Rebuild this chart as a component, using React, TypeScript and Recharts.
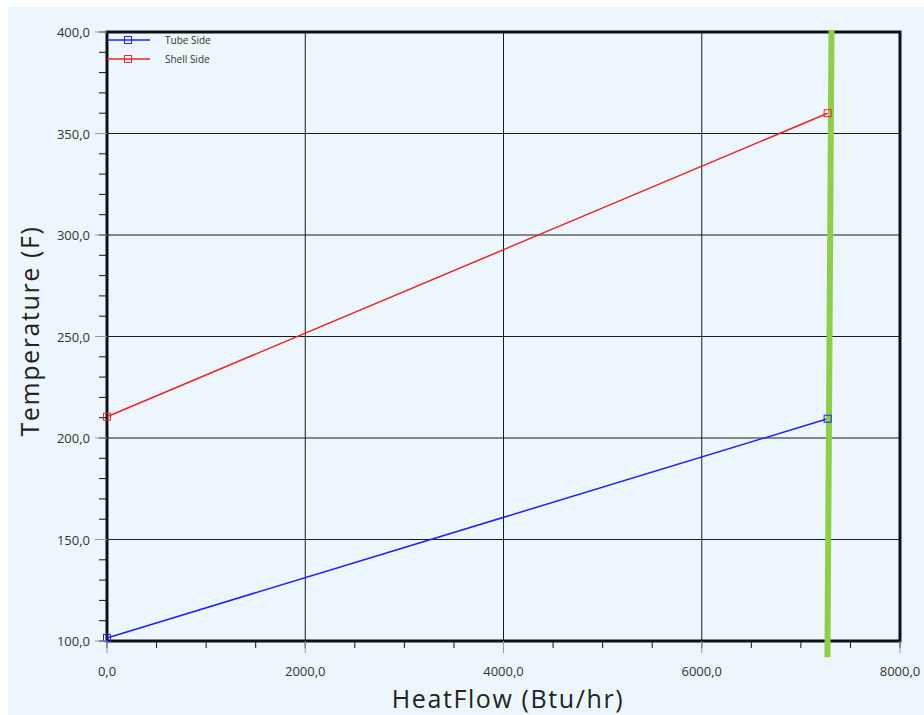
import { LineChart, Line, XAxis, YAxis, Legend, ReferenceLine, ReferenceArea } from "recharts";

// heat flow (Btu/hr) at the two ends of the exchanger
const heatFlow = [0, 7270];
const tubeSide = [101.5, 209.5];
const shellSide = [210.5, 360];
const seriesNames = ["Tube Side", "Shell Side"];

// slanted green marker line, top and bottom end (slightly outside the plot)
const cutTop = { q: 7309, t: 401 };
const cutBottom = { q: 7268, t: 92 };

const majorX = [0, 2000, 4000, 6000, 8000];
const minorX = [0, 500, 1000, 1500, 2000, 2500, 3000, 3500, 4000, 4500, 5000, 5500, 6000, 6500, 7000, 7500, 8000];
const majorY = [100, 150, 200, 250, 300, 350, 400];
const minorY = [
  100, 110, 120, 130, 140, 150, 160, 170, 180, 190, 200, 210, 220, 230, 240, 250,
  260, 270, 280, 290, 300, 310, 320, 330, 340, 350, 360, 370, 380, 390, 400,
];

const BLUE = "#1f1fff";
const RED = "#e3262b";
const GREEN = "#8fce4c";
const GRID = "#1a1a1a";
const FONT = '"Open Sans", "Noto Sans", sans-serif';

const tubeData = heatFlow.map((q, i) => ({ q, t: tubeSide[i] }));
const shellData = heatFlow.map((q, i) => ({ q, t: shellSide[i] }));

const fmt = (v: number) => v.toFixed(1).replace(".", ",");

function XTick({ x, y, payload }: any) {
  const v = payload.value as number;
  if (!majorX.includes(v)) return null;
  const axisY = y - 7;
  return (
    <g>
      <line x1={x} x2={x} y1={axisY} y2={axisY + 12} stroke="#9a9a9a" />
      <text x={x} y={axisY + 35} textAnchor="middle" fontSize={13} fill="#333" fontFamily={FONT}>
        {fmt(v)}
      </text>
    </g>
  );
}

function YTick({ x, y, payload }: any) {
  const v = payload.value as number;
  if (!majorY.includes(v)) return null;
  const axisX = x + 8;
  return (
    <g>
      <line x1={axisX - 12} x2={axisX} y1={y} y2={y} stroke="#9a9a9a" />
      <text x={axisX - 17} y={y + 5} textAnchor="end" fontSize={13} fill="#333" fontFamily={FONT}>
        {fmt(v)}
      </text>
    </g>
  );
}

function SquareDot(color: string) {
  return (props: any) => {
    const { cx, cy, index } = props;
    return (
      <rect key={index} x={cx - 3.5} y={cy - 3.5} width={7} height={7} fill="none" stroke={color} strokeWidth={1} />
    );
  };
}

function LegendBox({ payload }: any) {
  const items = [...(payload || [])].sort(
    (a: any, b: any) => seriesNames.indexOf(a.value) - seriesNames.indexOf(b.value)
  );
  return (
    <div style={{ fontFamily: FONT, fontSize: 10, color: "#333" }}>
      {items.map((e: any) => (
        <div key={e.value} style={{ display: "flex", alignItems: "center", height: 19 }}>
          <svg width={44} height={10} style={{ display: "block" }}>
            <line x1={0} x2={43} y1={5} y2={5} stroke={e.color} strokeWidth={1.5} />
            <rect x={17.5} y={1.5} width={7} height={7} fill="none" stroke={e.color} />
          </svg>
          <span style={{ marginLeft: 14 }}>{e.value}</span>
        </div>
      ))}
    </div>
  );
}

const titleStyle = {
  position: "absolute" as const,
  whiteSpace: "nowrap" as const,
  fontFamily: FONT,
  fontSize: 25,
  letterSpacing: 1.6,
  lineHeight: "25px",
  color: "#222",
};

export default function App() {
  return (
    <div style={{ position: "relative", width: 924, height: 715, background: "#fff", overflow: "hidden" }}>
      <style>{"body{margin:0;overflow:hidden}"}</style>
      <div style={{ position: "absolute", left: 8, top: 7, right: 0, bottom: 0, background: "#eef6fd" }} />
      <div style={{ position: "absolute", left: 0, top: 0 }}>
        <LineChart width={924} height={715} margin={{ top: 32, right: 24, bottom: 0, left: 0 }}>
          <XAxis
            dataKey="q"
            type="number"
            domain={[0, 8000]}
            ticks={minorX}
            interval={0}
            axisLine={false}
            tickLine={{ stroke: "#111" }}
            tickSize={7}
            tickMargin={0}
            height={74}
            tick={<XTick />}
          />
          <YAxis
            dataKey="t"
            type="number"
            domain={[100, 400]}
            ticks={minorY}
            interval={0}
            axisLine={false}
            tickLine={{ stroke: "#111" }}
            tickSize={8}
            tickMargin={0}
            width={107}
            tick={<YTick />}
          />
          {majorX.slice(1, -1).map((v) => (
            <ReferenceLine key={"gx" + v} x={v} stroke={GRID} strokeWidth={1} />
          ))}
          {majorY.slice(1, -1).map((v) => (
            <ReferenceLine key={"gy" + v} y={v} stroke={GRID} strokeWidth={1} />
          ))}
          <ReferenceArea x1={0} x2={8000} y1={100} y2={400} fill="none" stroke="#111" strokeWidth={3} />
          <Legend
            layout="horizontal"
            verticalAlign="middle"
            align="center"
            wrapperStyle={{ top: 30, left: 107, width: 200 }}
            content={<LegendBox />}
          />
          <Line
            data={tubeData}
            dataKey="t"
            name={seriesNames[0]}
            stroke={BLUE}
            strokeWidth={1.5}
            dot={SquareDot(BLUE)}
            activeDot={false}
            isAnimationActive={false}
          />
          <Line
            data={shellData}
            dataKey="t"
            name={seriesNames[1]}
            stroke={RED}
            strokeWidth={1.5}
            dot={SquareDot(RED)}
            activeDot={false}
            isAnimationActive={false}
          />
          <ReferenceLine
            segment={[
              { x: cutTop.q, y: cutTop.t },
              { x: cutBottom.q, y: cutBottom.t },
            ]}
            ifOverflow="visible"
            stroke={GREEN}
            strokeWidth={6}
          />
        </LineChart>
      </div>
      <div style={{ ...titleStyle, left: 29, top: 331, transform: "translate(-50%, -50%) rotate(-90deg)" }}>
        Temperature (F)
      </div>
      <div style={{ ...titleStyle, left: 508, top: 686, transform: "translateX(-50%)" }}>
        HeatFlow (Btu/hr)
      </div>
    </div>
  );
}
